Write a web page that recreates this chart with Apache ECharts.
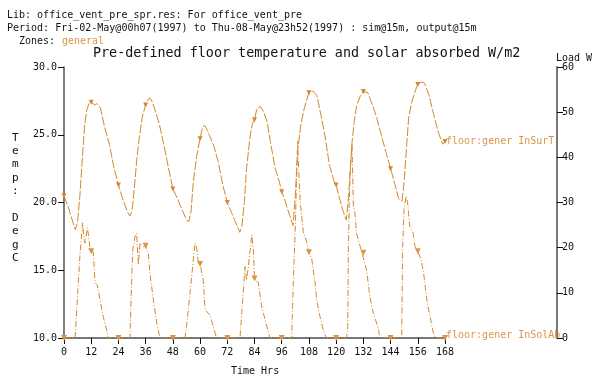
<!DOCTYPE html>
<html>
<head>
<meta charset="utf-8">
<script src="https://cdn.jsdelivr.net/npm/echarts@6/dist/echarts.min.js"></script>
<style>
  html, body { margin: 0; padding: 0; background: #fff; }
  #chart { width: 592px; height: 377px; }
</style>
</head>
<body>
<div id="chart"></div>
<script>
// floor:gener InSurT (degC)
var tempHours = [0, 2, 4, 5, 6, 7, 8, 9, 10, 11, 12, 13.5, 14.5, 16, 18, 20, 22, 24, 26, 28, 29, 30, 31, 32, 33, 34.5, 36, 37.5, 38.5, 40, 42, 44, 46, 48, 50, 52, 54, 55, 56, 57, 58.5, 60, 61, 62, 63, 64, 66, 68, 70, 72, 74, 76, 77.5, 78.5, 79.5, 80.5, 82, 83, 84, 85, 86.5, 88, 89.5, 91, 93, 95, 96, 97, 99, 101, 102, 103, 104.5, 106, 108, 110, 111.5, 113, 115, 117, 119, 120, 121, 123, 124.5, 125.5, 127, 128, 129, 130.5, 132, 134, 136, 138, 140, 142, 144, 146, 147.5, 149, 150, 151, 152, 153.5, 155, 156, 157.5, 159, 161, 163, 165, 167, 168];
var tempValues = [20.5, 19.6, 18.5, 18.0, 18.6, 20.5, 23.0, 25.5, 26.8, 27.3, 27.4, 27.2, 27.3, 27.0, 25.5, 24.3, 22.6, 21.3, 20.2, 19.3, 19.0, 19.4, 21.0, 23.0, 24.5, 26.3, 27.2, 27.7, 27.6, 26.9, 25.8, 24.3, 22.6, 21.0, 20.3, 19.5, 18.7, 18.6, 19.3, 21.5, 23.4, 24.7, 25.5, 25.7, 25.4, 25.0, 24.2, 23.0, 21.3, 20.0, 19.2, 18.4, 17.8, 18.3, 20.0, 22.5, 24.8, 25.8, 26.1, 26.9, 27.1, 26.7, 26.0, 24.5, 22.6, 21.5, 20.8, 20.4, 19.3, 18.3, 20.5, 23.8, 25.8, 27.0, 28.1, 28.2, 27.9, 26.7, 25.0, 22.8, 21.6, 21.3, 20.6, 19.4, 18.7, 20.5, 24.4, 26.0, 27.1, 27.8, 28.2, 28.1, 27.2, 26.2, 24.9, 23.7, 22.5, 21.3, 20.3, 20.1, 21.5, 24.0, 26.3, 27.5, 28.3, 28.7, 28.9, 28.8, 27.9, 26.5, 25.2, 24.3, 24.5];

// floor:gener InSolAb (W/m2)
var solarHours = [0, 4.9, 6.3, 7.1, 7.8, 8.2, 8.8, 9.3, 10.3, 11, 11.5, 12, 12.9, 13.7, 14.7, 15.9, 17.3, 18.8, 19.5, 24, 29.1, 29.8, 30.3, 31.3, 32, 32.8, 33.5, 35, 36, 37.2, 37.9, 39.4, 40.9, 42.3, 48, 53.4, 54.8, 56.3, 57, 57.8, 58.5, 59.2, 60, 60.7, 61.4, 62.2, 64.4, 65.8, 67.3, 72, 77.6, 78.8, 79.4, 79.8, 80.5, 81.3, 82.8, 83.5, 84, 85.7, 87.2, 88.7, 90.8, 96, 100.4, 101.1, 101.9, 102.6, 103, 103.5, 104.1, 105.5, 107, 108, 109.2, 110.7, 111.4, 112.9, 114.3, 115.8, 120, 124.6, 125.1, 125.4, 125.8, 126.3, 127, 127.6, 128.3, 129, 131.2, 132, 133.4, 134.9, 136.4, 138.6, 139.3, 144, 148.9, 149.3, 149.9, 150.8, 151.5, 152.5, 154, 154.8, 156, 157.3, 158.5, 160, 161.4, 162.9, 163.8, 168];
var solarValues = [0, 0, 12.2, 18.8, 23.2, 25.5, 22.0, 21.0, 24.4, 22.0, 19.5, 19.2, 19.1, 12.2, 11.7, 8.4, 4.7, 1.8, 0, 0, 0, 12.2, 19.5, 22.4, 23.2, 16.2, 21.0, 20.2, 20.4, 18.8, 14.4, 8.4, 3.3, 0, 0, 0, 6.2, 13.6, 17.3, 21.0, 19.9, 16.9, 16.4, 16.2, 12.8, 6.2, 5.1, 2.5, 0, 0, 0, 8.4, 12.8, 15.8, 12.8, 15.8, 22.8, 19.5, 13.2, 12.2, 6.9, 4.0, 0, 0, 0, 12.2, 23.2, 36.0, 43.5, 37.0, 30.5, 23.5, 21.3, 19.0, 17.6, 12.2, 8.4, 4.7, 1.8, 0, 0, 0, 2.5, 19.5, 30.5, 38.0, 43.0, 29.1, 27.7, 23.2, 19.1, 18.9, 15.1, 9.1, 5.5, 2.1, 0, 0, 0, 19.5, 28.3, 31.4, 30.0, 24.6, 23.2, 20.2, 19.2, 17.6, 14.7, 8.4, 4.7, 1.0, 0, 0];

var hourTicks = 12;
var orange = '#d4882c';
var orangeLight = '#da9645';
var mono = '"DejaVu Sans Mono", "Liberation Mono", monospace';

function zip(xs, ys) {
  return xs.map(function (x, i) { return [x, ys[i]]; });
}
function markEvery12(value) {
  return value[0] % hourTicks === 0 ? 'triangle' : 'none';
}

var chart = echarts.init(document.getElementById('chart'));

var labelStyle = { color: '#111', fontFamily: mono, fontSize: 10 };

chart.setOption({
  backgroundColor: '#fff',
  animation: false,
  grid: { left: 64, right: 147, top: 67, bottom: 39, containLabel: false },
  xAxis: {
    type: 'value',
    min: 0,
    max: 168,
    interval: hourTicks,
    axisLine: { lineStyle: { color: '#777', width: 2 } },
    axisTick: { length: 6, lineStyle: { color: '#111', width: 1 } },
    axisLabel: Object.assign({ margin: 9 }, labelStyle),
    splitLine: { show: false }
  },
  yAxis: [
    {
      type: 'value',
      min: 10,
      max: 30,
      interval: 5,
      axisLine: { show: true, lineStyle: { color: '#555', width: 1.5 } },
      axisTick: { show: true, length: 6, lineStyle: { color: '#111' } },
      axisLabel: Object.assign({ margin: 7, formatter: function (v) { return v.toFixed(1); } }, labelStyle),
      splitLine: { show: false }
    },
    {
      type: 'value',
      position: 'right',
      offset: 112,
      min: 0,
      max: 60,
      interval: 10,
      axisLine: { show: true, lineStyle: { color: '#777', width: 2 } },
      axisTick: { show: true, length: 6, lineStyle: { color: '#111' } },
      axisLabel: Object.assign({ margin: 5 }, labelStyle),
      splitLine: { show: false }
    }
  ],
  graphic: [
    { type: 'text', left: 7, top: 10, style: { text: 'Lib: office_vent_pre_spr.res: For office_vent_pre', font: '10px ' + mono, fill: '#111' } },
    { type: 'text', left: 7, top: 23, style: { text: 'Period: Fri-02-May@00h07(1997) to Thu-08-May@23h52(1997) : sim@15m, output@15m', font: '10px ' + mono, fill: '#111' } },
    { type: 'text', left: 19, top: 36, style: { text: 'Zones:', font: '10px ' + mono, fill: '#111' } },
    { type: 'text', left: 62, top: 36, style: { text: 'general', font: '10px ' + mono, fill: orangeLight } },
    { type: 'text', left: 93, top: 47, style: { text: 'Pre-defined floor temperature and solar absorbed W/m2', font: '13.4px ' + mono, fill: '#111' } },
    { type: 'text', left: 556, top: 53, style: { text: 'Load W/m2', font: '10px ' + mono, fill: '#111' } },
    { type: 'text', left: 12, top: 131, style: { text: 'T\ne\nm\np\n:\n\nD\ne\ng\nC', font: '11px ' + mono, fill: '#111', lineHeight: 13.4 } },
    { type: 'text', left: 231, top: 366, style: { text: 'Time Hrs', font: '10px ' + mono, fill: '#111' } }
  ],
  series: [
    {
      name: 'floor:gener InSurT',
      type: 'line',
      yAxisIndex: 0,
      data: zip(tempHours, tempValues),
      symbol: markEvery12,
      symbolSize: 5,
      symbolRotate: 180,
      showSymbol: true,
      itemStyle: { color: orange },
      lineStyle: { color: orange, width: 1, type: [9, 2] },
      endLabel: { show: true, formatter: 'floor:gener InSurT', color: orangeLight, fontFamily: mono, fontSize: 10, distance: 1 }
    },
    {
      name: 'floor:gener InSolAb',
      type: 'line',
      yAxisIndex: 1,
      data: zip(solarHours, solarValues),
      symbol: markEvery12,
      symbolSize: 6,
      symbolRotate: 180,
      showSymbol: true,
      itemStyle: { color: orangeLight },
      lineStyle: { color: orange, width: 1, type: [6, 2, 1, 2] },
      endLabel: { show: true, formatter: 'floor:gener InSolAb', color: orangeLight, fontFamily: mono, fontSize: 10, distance: 1, offset: [0, -3] }
    }
  ]
});
</script>
</body>
</html>
